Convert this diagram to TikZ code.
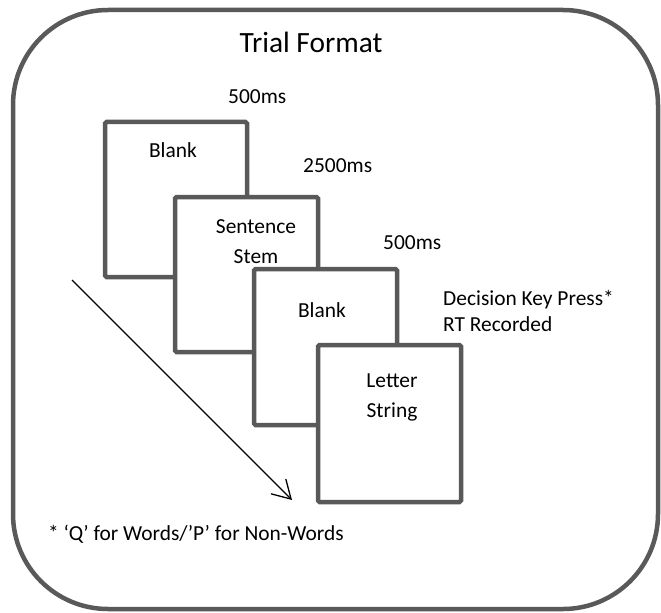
\documentclass[tikz,border=0pt]{standalone}
\usepackage{fontspec}
\setmainfont{Carlito}
\usetikzlibrary{arrows.meta}
\definecolor{frame}{HTML}{595959}
\begin{document}
\begin{tikzpicture}[x=1bp,y=-1bp,
  txt/.style={inner sep=0pt,anchor=base,font=\fontsize{21.5}{25}\selectfont,text=black},
  txtw/.style={txt,anchor=base west},
  slide/.style={draw=frame,line width=4.5bp,fill=white,rounded corners=1.5bp},
  outer/.style={draw=frame,line width=4.5bp,rounded corners=95bp}]
\useasboundingbox (0,0) rectangle (661,613);
\draw[outer] (13,10) rectangle (658,609);
\node[txt,font=\fontsize{29.5}{33}\selectfont] (title) at (311,53) {Trial Format};
% slides
\draw[slide] (105,122) rectangle (247,277);
\draw[slide] (175,197) rectangle (318,352);
\draw[slide] (254,269) rectangle (397,425);
\draw[slide] (318,345) rectangle (461,502);
% slide texts
\node[txt] (blank1) at (173,158) {Blank};
\node[txt] (sent) at (256,233) {Sentence};
\node[txt] (stem) at (256,263) {Stem};
\node[txt] (blank2) at (322,317) {Blank};
\node[txt] (letter) at (392,387) {Letter};
\node[txt] (string) at (392,417) {String};
% durations
\node[txtw] (d1) at (228,104) {500ms};
\node[txtw] (d2) at (303,173) {2500ms};
\node[txtw] (d3) at (383,249) {500ms};
\node[txtw] (dec) at (443,305) {Decision Key Press*};
\node[txtw] (rt) at (443,331) {RT Recorded};
\node[txtw] (foot) at (48,540) {* ‘Q’ for Words/’P’ for Non-Words};
% time arrow
\coordinate (as) at (72,280);
\coordinate (ae) at (292,500);
\draw[line width=1.3bp,-{Straight Barb[length=18bp,width=21bp,line width=1.3bp]}] (as) -- (ae);
\end{tikzpicture}
\end{document}
